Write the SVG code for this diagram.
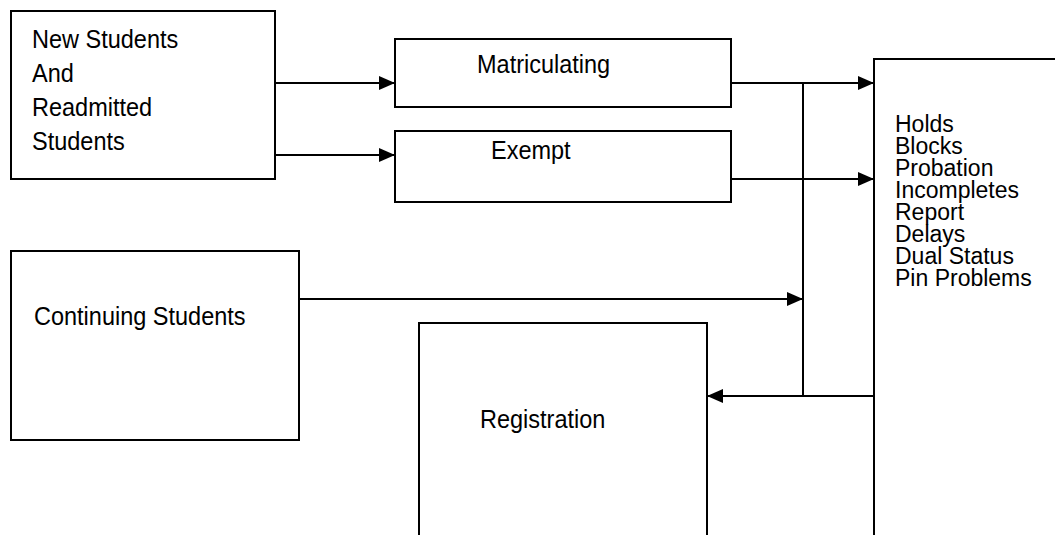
<svg xmlns="http://www.w3.org/2000/svg" width="1055" height="535" viewBox="0 0 1055 535">
  <style>
    .box { fill: #ffffff; stroke: #000000; stroke-width: 2; }
    .wire { fill: none; stroke: #000000; stroke-width: 2; }
    .lbl { font-family: "Liberation Sans", Arial, sans-serif; font-size: 23.5px; fill: #000000; }
    .list { font-family: "Liberation Sans", Arial, sans-serif; font-size: 23px; fill: #000000; }
  </style>
  <defs>
    <marker id="arrow" markerUnits="userSpaceOnUse" markerWidth="16" markerHeight="14" refX="16" refY="7" orient="auto">
      <path d="M0,0 L16,7 L0,14 Z" fill="#000000"/>
    </marker>
  </defs>
  <rect width="1055" height="535" fill="#ffffff"/>

  <g id="new-students">
    <rect class="box" x="11" y="11" width="264" height="168"/>
    <text class="lbl" transform="translate(32,48) scale(1,1.06)">
      <tspan x="0" y="0">New Students</tspan>
      <tspan x="0" dy="32.5">And</tspan>
      <tspan x="0" dy="32">Readmitted</tspan>
      <tspan x="0" dy="31.5">Students</tspan>
    </text>
  </g>

  <g id="matriculating">
    <rect class="box" x="395" y="39" width="336" height="68"/>
    <text class="lbl" transform="translate(477,73) scale(1,1.06)">Matriculating</text>
  </g>

  <g id="exempt">
    <rect class="box" x="395" y="131" width="336" height="71"/>
    <text class="lbl" transform="translate(491,159) scale(1,1.06)">Exempt</text>
  </g>

  <g id="status-checks">
    <rect class="box" x="874" y="59" width="200" height="500"/>
    <text class="list" x="895" y="132">
      <tspan x="895" y="132">Holds</tspan>
      <tspan x="895" dy="22">Blocks</tspan>
      <tspan x="895" dy="22">Probation</tspan>
      <tspan x="895" dy="22">Incompletes</tspan>
      <tspan x="895" dy="22">Report</tspan>
      <tspan x="895" dy="22">Delays</tspan>
      <tspan x="895" dy="22">Dual Status</tspan>
      <tspan x="895" dy="22">Pin Problems</tspan>
    </text>
  </g>

  <g id="continuing-students">
    <rect class="box" x="11" y="251" width="288" height="189"/>
    <text class="lbl" transform="translate(34,325) scale(1,1.06)">Continuing Students</text>
  </g>

  <g id="registration">
    <rect class="box" x="419" y="323" width="288" height="240"/>
    <text class="lbl" transform="translate(480,428) scale(1,1.06)">Registration</text>
  </g>

  <g id="connectors">
    <line class="wire" x1="275" y1="83" x2="395" y2="83" marker-end="url(#arrow)"/>
    <line class="wire" x1="275" y1="155" x2="395" y2="155" marker-end="url(#arrow)"/>
    <line class="wire" x1="731" y1="83" x2="874" y2="83" marker-end="url(#arrow)"/>
    <line class="wire" x1="731" y1="179" x2="874" y2="179" marker-end="url(#arrow)"/>
    <line class="wire" x1="803" y1="83" x2="803" y2="396"/>
    <line class="wire" x1="299" y1="299" x2="803" y2="299" marker-end="url(#arrow)"/>
    <line class="wire" x1="874" y1="396" x2="707" y2="396" marker-end="url(#arrow)"/>
  </g>
</svg>
